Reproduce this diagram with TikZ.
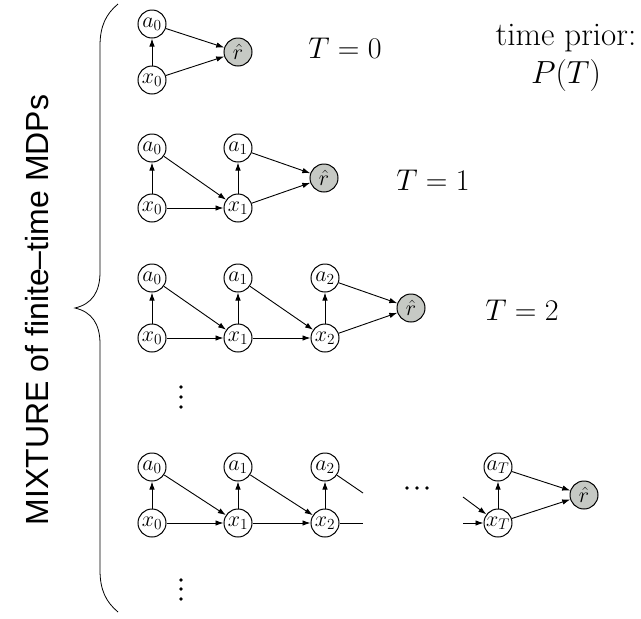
\RequirePackage{fix-cm}
\documentclass[tikz,border=0pt]{standalone}
\usepackage{fontspec}
\newfontfamily\mixfont{Liberation Sans}
\usetikzlibrary{arrows.meta}

\definecolor{rewardgray}{RGB}{198,201,196}

\tikzset{
  var/.style={circle, draw, line width=1pt, minimum size=28pt, inner sep=0pt,
    font=\fontsize{22}{26}\selectfont},
  rew/.style={var, fill=rewardgray},
  arr/.style={-{Latex[length=8pt,width=5.5pt]}, line width=0.9pt},
  seg/.style={line width=0.9pt},
  lbl/.style={font=\fontsize{30}{34}\selectfont},
  dot/.style={circle, fill, inner sep=0pt, minimum size=3.6pt}
}

\begin{document}
\begin{tikzpicture}[x=1pt,y=-1pt]
\useasboundingbox (0,0) rectangle (641,619);

% ---- T = 0 ----
\node[var] (a00) at (152,24) {$a_0$};
\node[var] (x00) at (152,80) {$x_0$};
\node[rew] (r0)  at (238,52) {$\hat r$};
\draw[arr] (x00) -- (a00);
\draw[arr] (a00) -- (r0);
\draw[arr] (x00) -- (r0);
\node[lbl] (t0) at (345,48) {$T=0$};
\node[lbl, font=\fontsize{33}{36}\selectfont] (prior) at (566,38) {time prior:};
\node[lbl, font=\fontsize{32}{36}\selectfont] (pt) at (566,75) {$P(T)$};

% ---- T = 1 ----
\node[var] (a10) at (152,148) {$a_0$};
\node[var] (x10) at (152,208) {$x_0$};
\node[var] (a11) at (238,148) {$a_1$};
\node[var] (x11) at (238,208) {$x_1$};
\node[rew] (r1)  at (324,178) {$\hat r$};
\draw[arr] (x10) -- (a10);
\draw[arr] (x11) -- (a11);
\draw[arr] (a10) -- (x11);
\draw[arr] (x10) -- (x11);
\draw[arr] (a11) -- (r1);
\draw[arr] (x11) -- (r1);
\node[lbl] (t1) at (433,180) {$T=1$};

% ---- T = 2 ----
\node[var] (a20) at (152,278) {$a_0$};
\node[var] (x20) at (152,338) {$x_0$};
\node[var] (a21) at (238,278) {$a_1$};
\node[var] (x21) at (238,338) {$x_1$};
\node[var] (a22) at (325,278) {$a_2$};
\node[var] (x22) at (325,338) {$x_2$};
\node[rew] (r2)  at (411,308) {$\hat r$};
\draw[arr] (x20) -- (a20);
\draw[arr] (x21) -- (a21);
\draw[arr] (x22) -- (a22);
\draw[arr] (a20) -- (x21);
\draw[arr] (x20) -- (x21);
\draw[arr] (a21) -- (x22);
\draw[arr] (x21) -- (x22);
\draw[arr] (a22) -- (r2);
\draw[arr] (x22) -- (r2);
\node[lbl] (t2) at (522,310) {$T=2$};

% vertical dots
\node[dot] (vd1) at (181,387) {};
\node[dot] (vd2) at (181,397) {};
\node[dot] (vd3) at (181,407) {};

% ---- general T ----
\node[var] (a30) at (152,467) {$a_0$};
\node[var] (x30) at (152,523) {$x_0$};
\node[var] (a31) at (238,467) {$a_1$};
\node[var] (x31) at (238,523) {$x_1$};
\node[var] (a32) at (325,467) {$a_2$};
\node[var] (x32) at (325,523) {$x_2$};
\node[var] (a3T) at (498,467) {$a_T$};
\node[var] (x3T) at (498,523) {$x_T$};
\node[rew] (r3)  at (584,495) {$\hat r$};
\coordinate (ca) at (363,493);
\coordinate (cx) at (363,523);
\coordinate (ia) at (463,497);
\coordinate (ix) at (463,523);
\draw[arr] (x30) -- (a30);
\draw[arr] (x31) -- (a31);
\draw[arr] (x32) -- (a32);
\draw[arr] (a30) -- (x31);
\draw[arr] (x30) -- (x31);
\draw[arr] (a31) -- (x32);
\draw[arr] (x31) -- (x32);
\draw[seg] (a32) -- (ca);
\draw[seg] (x32) -- (cx);
\draw[arr] (ia) -- (x3T);
\draw[arr] (ix) -- (x3T);
\draw[arr] (x3T) -- (a3T);
\draw[arr] (a3T) -- (r3);
\draw[arr] (x3T) -- (r3);

% horizontal dots
\node[dot] (hd1) at (407,488) {};
\node[dot] (hd2) at (417,488) {};
\node[dot] (hd3) at (427,488) {};

% vertical dots below
\node[dot] (vd4) at (181,580) {};
\node[dot] (vd5) at (181,589) {};
\node[dot] (vd6) at (181,599) {};

% ---- brace and side label ----
\draw[line width=0.8pt]
  (118,4) .. controls (106,14) and (100,26) .. (100,46)
  -- (100,272)
  .. controls (100,292) and (92,304) .. (75,308)
  .. controls (92,312) and (100,324) .. (100,344)
  -- (100,570)
  .. controls (100,590) and (106,602) .. (118,612);
\node[rotate=90, font=\mixfont\fontsize{32}{36}\selectfont] (mix) at (37,310)
  {MIXTURE of finite–time MDPs};
\end{tikzpicture}
\end{document}
